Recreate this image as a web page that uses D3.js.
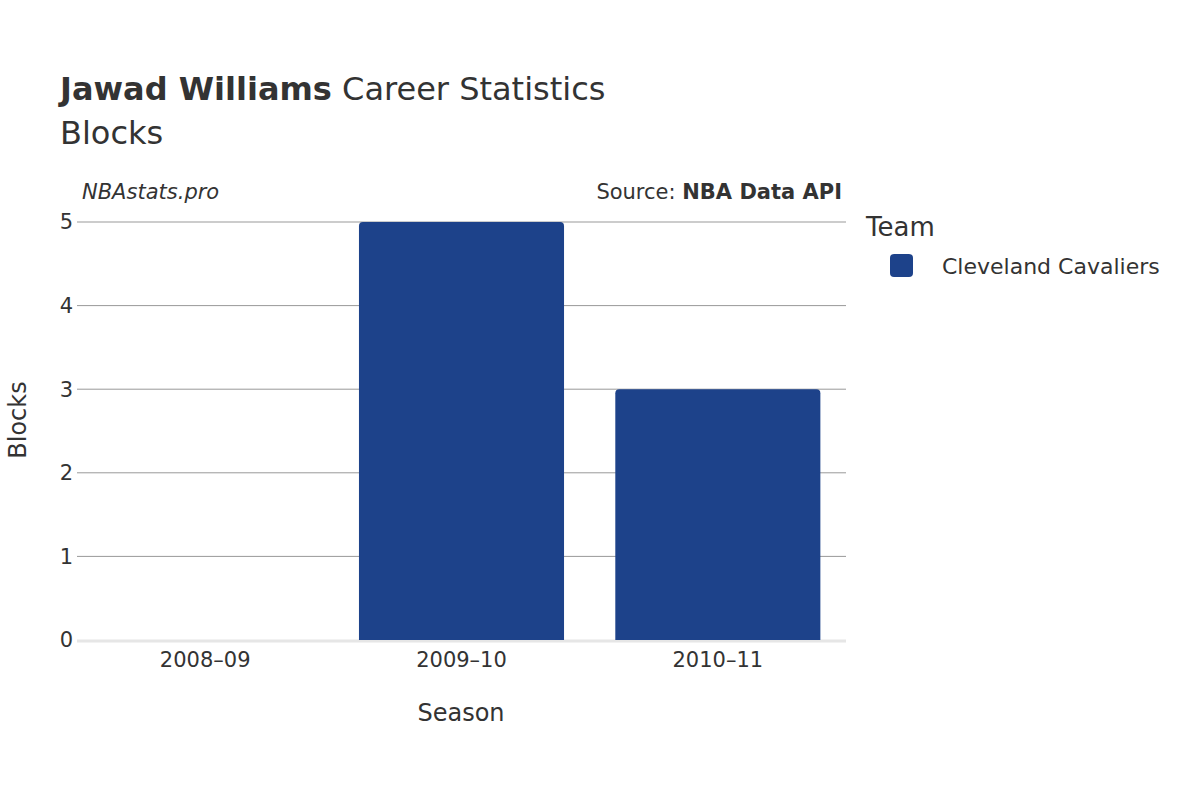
<!DOCTYPE html>
<html><head><meta charset="utf-8">
<script src="https://cdn.jsdelivr.net/npm/d3@7"></script>
<style>body{margin:0;background:#fff}text{font-family:"DejaVu Sans",sans-serif;fill:#333}</style>
</head><body><svg id="c" width="1200" height="800"></svg>
<script>
const seasons = ["2008–09","2009–10","2010–11"];
const blocks = [0,5,3];
const yTicks = [0,1,2,3,4,5];
const teamName = "Cleveland Cavaliers";
const teamColor = "#1d428a";

const svg = d3.select("#c");
const m = {l:77, r:846, t:222, b:640};
const x = d3.scaleBand().domain(seasons).range([m.l, m.r]).paddingInner(0.2).paddingOuter(0.1);
const y = d3.scaleLinear().domain([0,5]).range([m.b, m.t]);

svg.append("g").selectAll("line").data(yTicks.filter(d=>d>0)).join("line")
  .attr("x1", m.l).attr("x2", m.r).attr("y1", d=>y(d)).attr("y2", d=>y(d))
  .attr("stroke", "#999").attr("stroke-width", 1);
svg.append("line").attr("x1", m.l).attr("x2", m.r).attr("y1", y(0)+1).attr("y2", y(0)+1)
  .attr("stroke", "#e6e6e6").attr("stroke-width", 3);

const r = 4;
svg.append("g").selectAll("path").data(seasons.map((s,i)=>({s, v:blocks[i]})).filter(d=>d.v>0)).join("path")
  .attr("fill", teamColor)
  .attr("d", d => {
    const x0 = x(d.s), w = x.bandwidth(), yt = y(d.v), yb = y(0);
    return `M${x0},${yb}V${yt+r}Q${x0},${yt} ${x0+r},${yt}H${x0+w-r}Q${x0+w},${yt} ${x0+w},${yt+r}V${yb}Z`;
  });

svg.append("g").selectAll("text").data(yTicks).join("text")
  .attr("x", 73).attr("y", d=>y(d)).attr("dy", "0.35em").attr("text-anchor","end")
  .attr("font-size", 21).text(d=>d);
svg.append("g").selectAll("text").data(seasons).join("text")
  .attr("x", d=>x(d)+x.bandwidth()/2).attr("y", 667).attr("text-anchor","middle")
  .attr("font-size", 21).text(d=>d);

svg.append("text").attr("x", 461).attr("y", 721).attr("text-anchor","middle").attr("font-size", 24).text("Season");
svg.append("text").attr("transform","translate(26,420) rotate(-90)").attr("text-anchor","middle").attr("font-size", 24).text("Blocks");

const t = svg.append("text").attr("x", 60).attr("y", 100).attr("font-size", 32);
t.append("tspan").attr("font-weight","bold").text("Jawad Williams");
t.append("tspan").text(" Career Statistics");
svg.append("text").attr("x", 60).attr("y", 144).attr("font-size", 32).text("Blocks");

svg.append("text").attr("x", 82).attr("y", 199).attr("font-size", 21).attr("font-style","italic").text("NBAstats.pro");
const s = svg.append("text").attr("x", 842).attr("y", 199).attr("font-size", 21).attr("text-anchor","end");
s.append("tspan").text("Source: ");
s.append("tspan").attr("font-weight","bold").text("NBA Data API");

svg.append("text").attr("x", 866).attr("y", 236).attr("font-size", 26).text("Team");
svg.append("rect").attr("x", 890).attr("y", 254).attr("width", 23).attr("height", 23).attr("rx", 4).attr("fill", teamColor);
svg.append("text").attr("x", 942).attr("y", 266).attr("dy","0.35em").attr("font-size", 22).text(teamName);
</script></body></html>
